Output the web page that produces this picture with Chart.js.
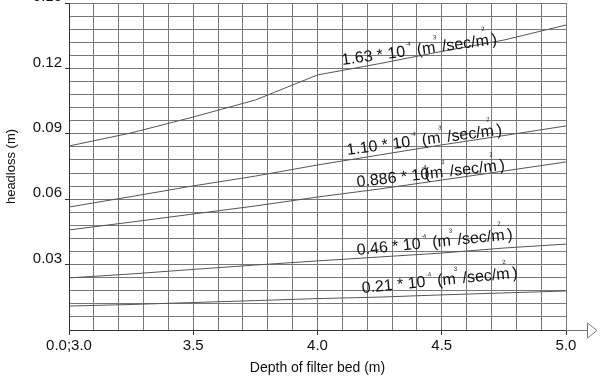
<!DOCTYPE html>
<html>
<head>
<meta charset="utf-8">
<script src="https://cdn.jsdelivr.net/npm/chart.js@4"></script>
<style>
  html, body { margin: 0; padding: 0; background: #fff; }
</style>
</head>
<body>
<canvas id="headChart" width="600" height="381"></canvas>
<script>
// depth of filter bed (m)
const depth = [3.0, 3.25, 3.5, 3.75, 4.0, 4.25, 4.5, 4.75, 5.0];

// headloss (m) for each filtration rate
const loss163 = [0.0844, 0.0904, 0.0977, 0.1055, 0.1170, 0.1222, 0.1278, 0.1330, 0.1399];
const loss110 = [0.0564, 0.0612, 0.0661, 0.0706, 0.0757, 0.0803, 0.0849, 0.0892, 0.0936];
const loss0886 = [0.0459, 0.0495, 0.0532, 0.0569, 0.0610, 0.0647, 0.0688, 0.0729, 0.0771];
const loss046 = [0.0239, 0.0257, 0.0278, 0.0298, 0.0317, 0.0335, 0.0353, 0.0376, 0.0394];
const loss021 = [0.0110, 0.0117, 0.0126, 0.0135, 0.0144, 0.0151, 0.0161, 0.0170, 0.0179];

const rateNames = ['1.63', '1.10', '0.886', '0.46', '0.21'];

const xTickValues = [3.0, 3.5, 4.0, 4.5, 5.0];
const xTickLabels = ['0.0;3.0', '3.5', '4.0', '4.5', '5.0'];
const yTickValues = [0.03, 0.06, 0.09, 0.12, 0.15];
const yTickLabels = ['0.03', '0.06', '0.09', '0.12', '0.15'];

const FONT = "'Liberation Sans', Arial, sans-serif";
Chart.defaults.font.family = FONT;
Chart.defaults.color = '#111';

function findTick(values, v) {
    return values.findIndex(t => Math.abs(t - v) < 1e-6);
}

// where the rate labels sit along the lines (start point and angle)
const labelSpots = [
    { x: 4.10, y: 0.1216, angle: -7.7, gap: true },
    { x: 4.12, y: 0.0803, angle: -7.5, gap: true },
    { x: 4.16, y: 0.0656, angle: -6.6, gap: false },
    { x: 4.16, y: 0.0344, angle: -5.8, gap: true },
    { x: 4.18, y: 0.0170, angle: -5.6, gap: true }
];

const lineLabels = {
    id: 'lineLabels',
    afterDatasetsDraw(chart) {
        const { ctx, scales: { x, y } } = chart;
        labelSpots.forEach((s, i) => {
            const parts = [
                { t: rateNames[i] + ' * 10' },
                { t: '-4', sup: -10, dx: s.gap ? 1 : -7 },
                { t: s.gap ? ' (m' : '(m', dx: s.gap ? 1 : -3 },
                { t: '3', sup: -13, dx: -1 },
                { t: ' /sec/m' },
                { t: '2', sup: -15, dx: -6 },
                { t: ' )', dx: 1 }
            ];
            ctx.save();
            ctx.translate(x.getPixelForValue(s.x), y.getPixelForValue(s.y));
            ctx.rotate(s.angle * Math.PI / 180);
            ctx.fillStyle = '#111';
            ctx.textBaseline = 'alphabetic';
            let cx = 0;
            parts.forEach(p => {
                ctx.font = (p.sup ? '6px ' : '16px ') + FONT;
                cx += p.dx || 0;
                ctx.fillText(p.t, cx, p.sup || 0);
                cx += ctx.measureText(p.t).width;
            });
            ctx.restore();
        });
    }
};

// open arrow head at the end of the x axis
const axisArrow = {
    id: 'axisArrow',
    afterDraw(chart) {
        const { ctx, chartArea: { right, bottom } } = chart;
        ctx.save();
        ctx.strokeStyle = '#777';
        ctx.lineWidth = 1;
        ctx.beginPath();
        ctx.moveTo(right, bottom + 0.5);
        ctx.lineTo(right + 21, bottom + 0.5);
        ctx.moveTo(right + 21.5, bottom - 7);
        ctx.lineTo(right + 31, bottom + 0.5);
        ctx.lineTo(right + 21.5, bottom + 8);
        ctx.closePath();
        ctx.stroke();
        ctx.restore();
    }
};

const series = [loss163, loss110, loss0886, loss046, loss021];

new Chart(document.getElementById('headChart'), {
    type: 'line',
    data: {
        labels: depth,
        datasets: series.map((vals, i) => ({
            label: rateNames[i],
            data: depth.map((d, k) => ({ x: d, y: vals[k] })),
            borderColor: '#555',
            borderWidth: 1,
            pointRadius: 0,
            fill: false,
            tension: 0
        }))
    },
    options: {
        responsive: false,
        animation: false,
        layout: { padding: { top: 3, right: 34, left: 0, bottom: 0 } },
        plugins: {
            legend: { display: false },
            tooltip: { enabled: false }
        },
        scales: {
            x: {
                type: 'linear',
                min: 3.0,
                max: 5.0,
                ticks: {
                    stepSize: 0.1,
                    autoSkip: false,
                    maxRotation: 0,
                    padding: 2,
                    font: { size: 15 },
                    callback: v => {
                        const k = findTick(xTickValues, v);
                        return k < 0 ? '' : xTickLabels[k];
                    }
                },
                grid: {
                    color: '#777',
                    tickLength: 5,
                    tickColor: c => findTick(xTickValues, c.tick.value) < 0 ? 'rgba(0,0,0,0)' : '#333'
                },
                border: { color: '#333' },
                title: {
                    display: true,
                    text: 'Depth of filter bed (m)',
                    font: { size: 14 }
                },
                afterFit: s => { s.height = 51; s.paddingLeft = 0; }
            },
            y: {
                min: 0,
                max: 0.15,
                ticks: {
                    stepSize: 0.006,
                    autoSkip: false,
                    padding: 3,
                    labelOffset: -6,
                    font: { size: 15 },
                    callback: v => {
                        const k = findTick(yTickValues, v);
                        return k < 0 ? '' : yTickLabels[k];
                    }
                },
                grid: {
                    color: '#777',
                    tickLength: 4,
                    tickColor: c => findTick(yTickValues, c.tick.value) < 0 ? 'rgba(0,0,0,0)' : '#333'
                },
                border: { color: '#333' },
                title: {
                    display: true,
                    text: 'headloss (m)',
                    font: { size: 13 }
                },
                afterFit: s => { s.width = 69; s.paddingTop = 0; s.paddingBottom = 0; }
            }
        }
    },
    plugins: [lineLabels, axisArrow]
});
</script>
</body>
</html>
